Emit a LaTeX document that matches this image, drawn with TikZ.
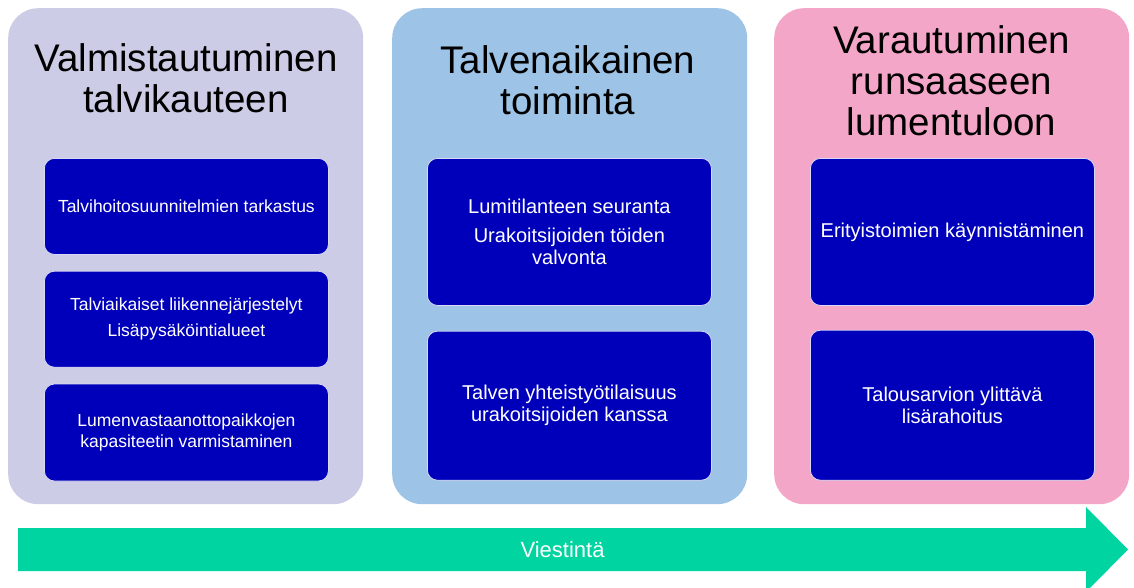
\documentclass[tikz,border=0pt]{standalone}
\usepackage{fontspec}
\setmainfont{Liberation Sans}
\usetikzlibrary{positioning}

\definecolor{prepcol}{RGB}{204,204,230}
\definecolor{wintercol}{RGB}{157,195,230}
\definecolor{snowcol}{RGB}{244,166,200}
\definecolor{taskcol}{RGB}{0,0,187}
\definecolor{commcol}{RGB}{0,212,160}

\begin{document}
\begin{tikzpicture}[x=1pt,y=-1pt,
    panel/.style={anchor=north west,inner sep=0pt,rounded corners=30pt,
        minimum width=355pt,minimum height=496pt},
    heading/.style={align=center,font=\fontsize{38.5}{41}\selectfont},
    task/.style={anchor=north west,inner sep=2pt,rounded corners=10pt,
        fill=taskcol,draw=white!85!taskcol,line width=.8pt,text=white,
        align=center,minimum width=284pt},
    small/.style={font=\fontsize{17.5}{20.5}\selectfont},
    big/.style={font=\fontsize{20}{22}\selectfont}
]
    \clip (0,0) rectangle (1134,587);
    % panels
    \node[panel,fill=prepcol] (prep) at (8,8) {};
    \node[panel,fill=wintercol] (winter) at (392,8) {};
    \node[panel,fill=snowcol] (snow) at (774,8) {};
    % headings
    \node[heading] (prephead) at (186,78) {Valmistautuminen\\talvikauteen};
    \node[heading] (winterhead) at (568,80) {Talvenaikainen\\toiminta};
    \node[heading] (snowhead) at (951.5,81) {Varautuminen\\runsaaseen\\lumentuloon};
    % tasks
    \node[task,small,minimum height=96pt] (check) at (44,158)
        {Talvihoitosuunnitelmien tarkastus};
    \node[task,small,minimum height=96pt,below=16pt of check] (traffic)
        {Talviaikaiset liikennejärjestelyt\\[5.5pt]Lisäpysäköintialueet};
    \node[task,small,minimum height=97pt,below=16pt of traffic] (dump)
        {Lumenvastaanottopaikkojen\\kapasiteetin varmistaminen};
    \node[task,big,minimum height=147pt] (follow) at (427,158)
        {Lumitilanteen seuranta\\[7pt]Urakoitsijoiden töiden\\valvonta};
    \node[task,big,minimum height=149pt,below=25pt of follow] (meeting)
        {Talven yhteistyötilaisuus\\urakoitsijoiden kanssa};
    \node[task,big,minimum height=147pt] (special) at (810,158)
        {Erityistoimien käynnistäminen};
    \node[task,big,minimum height=150pt,below=24pt of special] (funding)
        {Talousarvion ylittävä\\lisärahoitus};
    % communication arrow
    \fill[commcol] (18,528) -- (1086,528) -- (1086,507) -- (1128,549.5)
        -- (1086,592) -- (1086,571) -- (18,571) -- cycle;
    \node[text=white,font=\fontsize{22}{26}\selectfont] (comm) at (562.5,549.5) {Viestintä};
\end{tikzpicture}
\end{document}
